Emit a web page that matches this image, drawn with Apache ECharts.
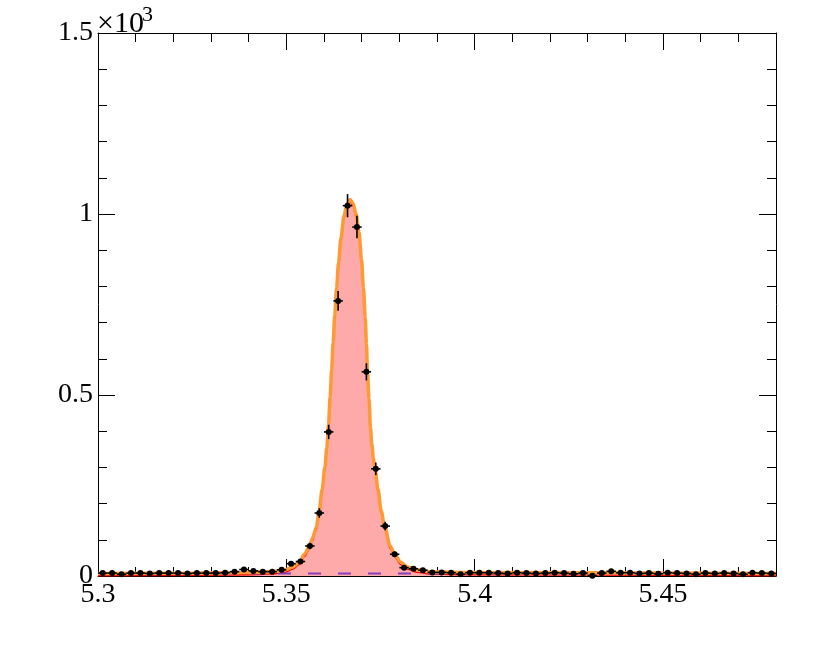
<!DOCTYPE html>
<html>
<head>
<meta charset="utf-8">
<script src="https://cdn.jsdelivr.net/npm/echarts@6/dist/echarts.min.js"></script>
<style>
  html, body { margin: 0; padding: 0; background: #fff; }
  #chart { width: 817px; height: 654px; }
</style>
</head>
<body>
<div id="chart"></div>
<script>
// bins: 72 bins of 0.0025 from 5.30
var binLo = 5.3
var binW = 0.0025
var counts = [8, 8, 5, 8, 8, 7, 8, 8, 8, 7, 8, 8, 8, 9, 12, 18, 14, 12, 12, 17,
  34, 40, 83, 174, 398, 760, 1023, 964, 564, 296, 138, 60, 23, 20, 16, 10, 10, 9, 5, 9,
  9, 9, 8, 7, 9, 8, 7, 8, 9, 8, 6, 8, 1, 8, 13, 9, 9, 7, 8, 6,
  9, 8, 7, 5, 8, 7, 8, 7, 5, 9, 8, 7]

// fit curves
var curveX = [5.3, 5.32703, 5.34028, 5.3469, 5.34955, 5.35167, 5.35353, 5.35485, 5.35618, 5.35697,
  5.35795, 5.35869, 5.35949, 5.36023, 5.36076, 5.36121, 5.36163, 5.36203, 5.36243, 5.36285,
  5.36333, 5.36386, 5.36452, 5.36532, 5.36611, 5.36691, 5.3677, 5.3685, 5.36929, 5.36995,
  5.37048, 5.37093, 5.37128, 5.37154, 5.37194, 5.37234, 5.37268, 5.37313, 5.37358, 5.37432,
  5.37517, 5.37613, 5.37756, 5.3787, 5.38029, 5.38214, 5.38479, 5.38797, 5.39592, 5.48]
var totalY = [6.9, 8.3, 9.7, 12.4, 16.6, 24.9, 38.7, 60.8, 83, 105,
  135, 176, 238, 300, 355, 420, 495, 570, 645, 720,
  795, 865, 935, 995, 1028, 1040, 1030, 1000, 950, 875,
  795, 715, 640, 565, 490, 410, 365, 325, 293, 240,
  180, 135, 83, 61, 39, 25, 17, 12, 10, 7]
var signalY = [0.5, 1.8, 3.2, 5.9, 10.1, 18.4, 32.2, 54.3, 76.5, 98.5,
  128.5, 169.5, 231.5, 293.5, 348.5, 413.5, 488.5, 563.5, 638.5, 713.5,
  788.5, 858.5, 928.5, 988.5, 1021.5, 1033.5, 1023.5, 993.5, 943.5, 868.5,
  788.5, 708.5, 633.5, 558.5, 483.5, 403.5, 358.5, 318.5, 286.5, 233.5,
  173.5, 128.5, 76.5, 54.5, 32.5, 18.5, 10.5, 5.5, 3.5, 0.5]
var bkgX = [5.3, 5.48]
var bkgY = [7, 7]

var font = 'Liberation Serif'

function pairs (xs, ys) {
  return xs.map(function (x, i) { return [x, ys[i]] })
}

var points = counts.map(function (c, i) {
  return [binLo + binW * (i + 0.5), c]
})

function tickAxis (extra) {
  var base = {
    axisLine: { show: true, onZero: false, lineStyle: { color: '#000', width: 1 } },
    axisTick: { show: true, inside: true, length: 17, lineStyle: { color: '#000', width: 1 } },
    minorTick: { show: true, splitNumber: 5, length: 9, lineStyle: { color: '#000', width: 1 } },
    splitLine: { show: false },
    minorSplitLine: { show: false }
  }
  return Object.assign(base, extra)
}

var myChart = echarts.init(document.getElementById('chart'))
myChart.setOption({
  animation: false,
  backgroundColor: '#fff',
  grid: { left: 98, right: 41, top: 33, bottom: 78 },
  graphic: [
    { type: 'text', left: 97, top: 9, style: { text: '×10', font: '30px "' + font + '"', fill: '#000' } },
    { type: 'text', left: 142, top: 4, style: { text: '3', font: '22px "' + font + '"', fill: '#000' } }
  ],
  xAxis: [
    tickAxis({
      type: 'value', min: 5.3, max: 5.48, interval: 0.05, position: 'bottom',
      axisLabel: {
        margin: 5, color: '#000', fontFamily: font, fontSize: 28, showMaxLabel: false,
        formatter: function (v) { return String(+v.toFixed(3)) }
      }
    }),
    tickAxis({
      type: 'value', min: 5.3, max: 5.48, interval: 0.05, position: 'top',
      axisLabel: { show: false }
    })
  ],
  yAxis: [
    tickAxis({
      type: 'value', min: 0, max: 1500, interval: 500, position: 'left',
      axisLabel: {
        margin: 5, color: '#000', fontFamily: font, fontSize: 28,
        formatter: function (v) { return String(v / 1000) }
      }
    }),
    tickAxis({
      type: 'value', min: 0, max: 1500, interval: 500, position: 'right',
      axisLabel: { show: false }
    })
  ],
  series: [
    {
      name: 'signal',
      type: 'line',
      data: pairs(curveX, signalY),
      showSymbol: false,
      smooth: 0.3,
      smoothMonotone: 'x',
      lineStyle: { color: '#ff0000', width: 1.5 },
      areaStyle: { color: '#ffaaaa', opacity: 1, origin: 'start' },
      z: 1
    },
    {
      name: 'background',
      type: 'line',
      data: pairs(bkgX, bkgY),
      showSymbol: false,
      lineStyle: { color: '#8040c0', width: 2, type: [13, 17] },
      z: 2
    },
    {
      name: 'total',
      type: 'line',
      data: pairs(curveX, totalY),
      showSymbol: false,
      smooth: 0.3,
      smoothMonotone: 'x',
      lineStyle: { color: '#ff9933', width: 3.5 },
      z: 3
    },
    {
      name: 'data',
      type: 'custom',
      data: points,
      z: 4,
      renderItem: function (params, api) {
        var x = api.value(0)
        var y = api.value(1)
        var e = Math.sqrt(y)
        var c = api.coord([x, y])
        var top = api.coord([x, y + e])
        var bot = api.coord([x, Math.max(y - e, 0)])
        var l = api.coord([x - binW / 2, y])
        var r = api.coord([x + binW / 2, y])
        var st = { stroke: '#000', lineWidth: 1.6 }
        return {
          type: 'group',
          children: [
            { type: 'line', shape: { x1: c[0], y1: top[1], x2: c[0], y2: bot[1] }, style: st },
            { type: 'line', shape: { x1: l[0], y1: c[1], x2: r[0], y2: c[1] }, style: st },
            { type: 'circle', shape: { cx: c[0], cy: c[1], r: 3 }, style: { fill: '#000' } }
          ]
        }
      }
    }
  ]
}, true)
</script>
</body>
</html>
